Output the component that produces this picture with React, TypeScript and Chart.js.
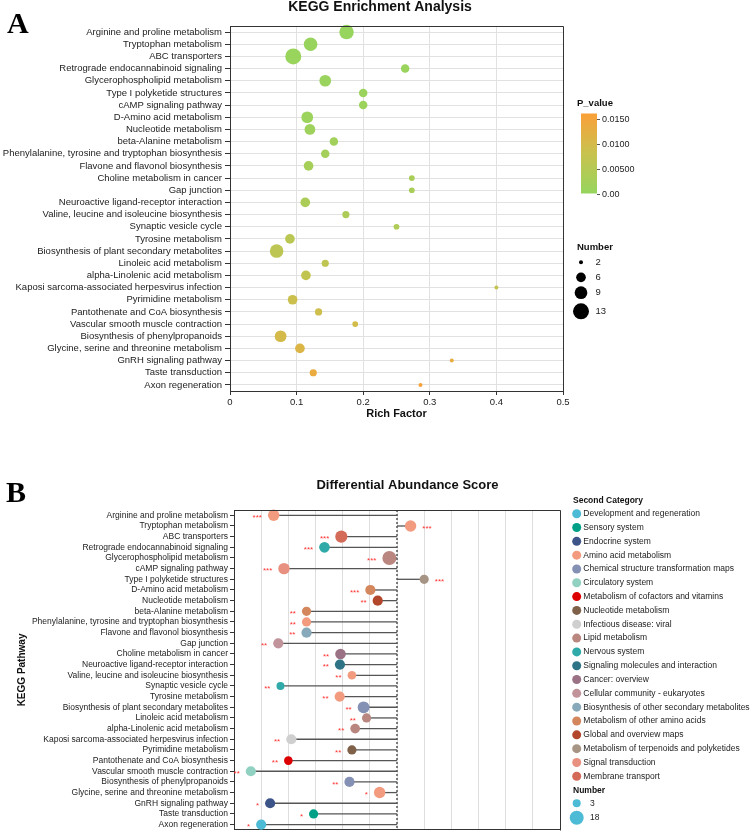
import React, { useEffect, useRef } from "react";
import { Chart, registerables } from "chart.js";

Chart.register(...registerables);

const SANS = "'Liberation Sans', Arial, Helvetica, sans-serif";
const SERIF = "'Liberation Serif', 'Times New Roman', serif";

// ---------- Panel A: KEGG enrichment ----------
const enrichPathways = [
  "Arginine and proline metabolism",
  "Tryptophan metabolism",
  "ABC transporters",
  "Retrograde endocannabinoid signaling",
  "Glycerophospholipid metabolism",
  "Type I polyketide structures",
  "cAMP signaling pathway",
  "D-Amino acid metabolism",
  "Nucleotide metabolism",
  "beta-Alanine metabolism",
  "Phenylalanine, tyrosine and tryptophan biosynthesis",
  "Flavone and flavonol biosynthesis",
  "Choline metabolism in cancer",
  "Gap junction",
  "Neuroactive ligand-receptor interaction",
  "Valine, leucine and isoleucine biosynthesis",
  "Synaptic vesicle cycle",
  "Tyrosine metabolism",
  "Biosynthesis of plant secondary metabolites",
  "Linoleic acid metabolism",
  "alpha-Linolenic acid metabolism",
  "Kaposi sarcoma-associated herpesvirus infection",
  "Pyrimidine metabolism",
  "Pantothenate and CoA biosynthesis",
  "Vascular smooth muscle contraction",
  "Biosynthesis of phenylpropanoids",
  "Glycine, serine and threonine metabolism",
  "GnRH signaling pathway",
  "Taste transduction",
  "Axon regeneration",
];
const richFactor = [
  0.175, 0.121, 0.095, 0.263, 0.143, 0.2, 0.2, 0.116, 0.12, 0.156,
  0.143, 0.118, 0.273, 0.273, 0.113, 0.174, 0.25, 0.09, 0.07, 0.143,
  0.114, 0.4, 0.094, 0.133, 0.188, 0.076, 0.105, 0.333, 0.125, 0.286,
];
const enrichCount = [
  11, 10, 13, 5, 8, 5, 5, 8, 7, 5,
  5, 6, 3, 3, 6, 4, 3, 6, 10, 4,
  6, 2, 6, 4, 3, 8, 6, 2, 4, 2,
];
const enrichP = [
  0.0002, 0.0003, 0.0004, 0.0006, 0.0007, 0.0008, 0.0008, 0.0009, 0.0012, 0.0018,
  0.0022, 0.0026, 0.003, 0.003, 0.0033, 0.0036, 0.004, 0.0058, 0.0062, 0.0066,
  0.007, 0.0075, 0.0085, 0.009, 0.0094, 0.0098, 0.011, 0.0128, 0.0135, 0.0155,
];
const pLegendTicks = [0.015, 0.01, 0.005, 0];
const pLegendLabels = ["0.0150", "0.0100", "0.00500", "0.00"];
const enrichCountLegend = [2, 6, 9, 13];

// ---------- Panel B: differential abundance ----------
const daPathways = [
  "Arginine and proline metabolism",
  "Tryptophan metabolism",
  "ABC transporters",
  "Retrograde endocannabinoid signaling",
  "Glycerophospholipid metabolism",
  "cAMP signaling pathway",
  "Type I polyketide structures",
  "D-Amino acid metabolism",
  "Nucleotide metabolism",
  "beta-Alanine metabolism",
  "Phenylalanine, tyrosine and tryptophan biosynthesis",
  "Flavone and flavonol biosynthesis",
  "Gap junction",
  "Choline metabolism in cancer",
  "Neuroactive ligand-receptor interaction",
  "Valine, leucine and isoleucine biosynthesis",
  "Synaptic vesicle cycle",
  "Tyrosine metabolism",
  "Biosynthesis of plant secondary metabolites",
  "Linoleic acid metabolism",
  "alpha-Linolenic acid metabolism",
  "Kaposi sarcoma-associated herpesvirus infection",
  "Pyrimidine metabolism",
  "Pantothenate and CoA biosynthesis",
  "Vascular smooth muscle contraction",
  "Biosynthesis of phenylpropanoids",
  "Glycine, serine and threonine metabolism",
  "GnRH signaling pathway",
  "Taste transduction",
  "Axon regeneration",
];
const daScore = [
  -0.454, 0.05, -0.205, -0.267, -0.028, -0.416, 0.1, -0.098, -0.071, -0.333,
  -0.333, -0.333, -0.437, -0.208, -0.21, -0.166, -0.429, -0.211, -0.123, -0.112,
  -0.154, -0.389, -0.166, -0.4, -0.538, -0.175, -0.064, -0.467, -0.307, -0.5,
];
const daCount = [
  10, 10, 12, 8, 18, 10, 5, 7, 7, 5,
  5, 7, 7, 8, 7, 4, 3, 7, 11, 5,
  6, 7, 5, 4, 7, 7, 10, 7, 5, 7,
];
const daStars = [
  "***", "***", "***", "***", "***", "***", "***", "***", "**", "**",
  "**", "**", "**", "**", "**", "**", "**", "**", "**", "**",
  "**", "**", "**", "**", "**", "**", "*", "*", "*", "*",
];
const daCategory = [
  "Amino acid metabolism",
  "Amino acid metabolism",
  "Membrane transport",
  "Nervous system",
  "Lipid metabolism",
  "Signal transduction",
  "Metabolism of terpenoids and polyketides",
  "Metabolism of other amino acids",
  "Global and overview maps",
  "Metabolism of other amino acids",
  "Amino acid metabolism",
  "Biosynthesis of other secondary metabolites",
  "Cellular community - eukaryotes",
  "Cancer: overview",
  "Signaling molecules and interaction",
  "Amino acid metabolism",
  "Nervous system",
  "Amino acid metabolism",
  "Chemical structure transformation maps",
  "Lipid metabolism",
  "Lipid metabolism",
  "Infectious disease: viral",
  "Nucleotide metabolism",
  "Metabolism of cofactors and vitamins",
  "Circulatory system",
  "Chemical structure transformation maps",
  "Amino acid metabolism",
  "Endocrine system",
  "Sensory system",
  "Development and regeneration",
];
const categoryNames = [
  "Development and regeneration",
  "Sensory system",
  "Endocrine system",
  "Amino acid metabolism",
  "Chemical structure transformation maps",
  "Circulatory system",
  "Metabolism of cofactors and vitamins",
  "Nucleotide metabolism",
  "Infectious disease: viral",
  "Lipid metabolism",
  "Nervous system",
  "Signaling molecules and interaction",
  "Cancer: overview",
  "Cellular community - eukaryotes",
  "Biosynthesis of other secondary metabolites",
  "Metabolism of other amino acids",
  "Global and overview maps",
  "Metabolism of terpenoids and polyketides",
  "Signal transduction",
  "Membrane transport",
];
const categoryColors = [
  "#4DBBD5", "#00A087", "#3C5488", "#F39B7F", "#8491B4",
  "#91D1C2", "#DC0000", "#7E6148", "#CFCFCF", "#B9877F",
  "#2FAAA8", "#2E7486", "#9B7285", "#C1939A", "#87A9B9",
  "#D4875D", "#B2472B", "#A69484", "#E89180", "#D46A58",
];
const daCountLegend = [3, 18];

// ---------- helpers ----------
const P_MAX = 0.016;
const P_STOPS: [number, number[]][] = [
  [0, [150, 213, 94]],
  [0.008, [200, 194, 78]],
  [0.016, [250, 160, 56]],
];
function pColor(p: number): string {
  const v = Math.max(0, Math.min(P_MAX, p));
  for (let i = 0; i < P_STOPS.length - 1; i++) {
    const [a, ca] = P_STOPS[i];
    const [b, cb] = P_STOPS[i + 1];
    if (v <= b) {
      const t = (v - a) / (b - a);
      const c = ca.map((x, k) => Math.round(x + (cb[k] - x) * t));
      return `rgb(${c[0]},${c[1]},${c[2]})`;
    }
  }
  const c = P_STOPS[P_STOPS.length - 1][1];
  return `rgb(${c[0]},${c[1]},${c[2]})`;
}
function enrichRadius(n: number): number {
  return 2 + ((Math.sqrt(n) - Math.sqrt(2)) / (Math.sqrt(13) - Math.sqrt(2))) * 6;
}
function daRadius(n: number): number {
  return 4 + ((Math.sqrt(n) - Math.sqrt(3)) / (Math.sqrt(18) - Math.sqrt(3))) * 3;
}
function text(
  ctx: CanvasRenderingContext2D,
  s: string,
  x: number,
  y: number,
  font: string,
  color: string,
  align: CanvasTextAlign = "left",
  baseline: CanvasTextBaseline = "middle"
) {
  ctx.font = font;
  ctx.fillStyle = color;
  ctx.textAlign = align;
  ctx.textBaseline = baseline;
  ctx.fillText(s, x, y);
}
function frame(chart: any) {
  const { ctx, chartArea } = chart;
  ctx.save();
  ctx.strokeStyle = "#333";
  ctx.lineWidth = 1;
  const l = Math.round(chartArea.left) + 0.5;
  const r = Math.round(chartArea.right) + 0.5;
  const t = Math.round(chartArea.top) + 0.5;
  const b = Math.round(chartArea.bottom) + 0.5;
  ctx.beginPath();
  ctx.moveTo(l, t);
  ctx.lineTo(r, t);
  ctx.lineTo(r, b);
  ctx.stroke();
  ctx.restore();
}

const TOP_H = 435;
const BOTTOM_H = 402;

function EnrichmentChart() {
  const ref = useRef<HTMLCanvasElement>(null);
  useEffect(() => {
    const canvas = ref.current;
    if (!canvas) return;
    const decor = {
      id: "enrichDecor",
      afterDraw(chart: any) {
        const { ctx, chartArea } = chart;
        frame(chart);
        ctx.save();
        text(ctx, "A", 7, 33, `bold 30px ${SERIF}`, "#000", "left", "alphabetic");
        text(ctx, "KEGG Enrichment Analysis", 380, 7.5, `bold 14px ${SANS}`, "#111", "center");
        text(ctx, "Rich Factor", (chartArea.left + chartArea.right) / 2, 414, `bold 11px ${SANS}`, "#111", "center");

        // colour bar
        const barX = 581;
        const barW = 16;
        const py = (v: number) => 193.5 - v * 5000;
        text(ctx, "P_value", 577, 103, `bold 9.5px ${SANS}`, "#111");
        const g = ctx.createLinearGradient(0, py(P_MAX), 0, py(0));
        for (let i = 0; i <= 16; i++) {
          const v = (P_MAX * i) / 16;
          g.addColorStop(1 - i / 16, pColor(v));
        }
        ctx.fillStyle = g;
        ctx.fillRect(barX, py(P_MAX), barW, py(0) - py(P_MAX));
        ctx.strokeStyle = "#555";
        ctx.lineWidth = 1;
        pLegendTicks.forEach((v, i) => {
          const yy = Math.round(py(v)) + 0.5;
          ctx.beginPath();
          ctx.moveTo(barX + barW, yy);
          ctx.lineTo(barX + barW + 3, yy);
          ctx.stroke();
          text(ctx, pLegendLabels[i], barX + barW + 5, yy, `9px ${SANS}`, "#222");
        });

        // size legend
        text(ctx, "Number", 577, 247, `bold 9.5px ${SANS}`, "#111");
        const rowsY = [262.3, 277.3, 292.7, 311.3];
        enrichCountLegend.forEach((n, i) => {
          ctx.beginPath();
          ctx.fillStyle = "#000";
          ctx.arc(581, rowsY[i], enrichRadius(n), 0, Math.PI * 2);
          ctx.fill();
          text(ctx, String(n), 595.5, rowsY[i], `9.5px ${SANS}`, "#222");
        });
        ctx.restore();
      },
    };
    const chart = new Chart(canvas, {
      type: "scatter",
      data: {
        datasets: [
          {
            data: enrichPathways.map((_, i) => ({ x: richFactor[i], y: i })),
            backgroundColor: enrichP.map(pColor),
            pointRadius: enrichCount.map(enrichRadius),
            pointHoverRadius: enrichCount.map(enrichRadius),
            borderWidth: 0,
            clip: false,
          } as any,
        ],
      },
      options: {
        animation: false,
        responsive: false,
        events: [],
        layout: { padding: { left: 0, right: 187, top: 26, bottom: 0 } },
        plugins: { legend: { display: false }, tooltip: { enabled: false } },
        scales: {
          x: {
            type: "linear",
            min: 0,
            max: 0.5,
            ticks: { stepSize: 0.1, color: "#222", font: { family: SANS, size: 9.5 }, padding: 2 },
            grid: { color: "#e1e1e1", tickColor: "#333", tickLength: 4, lineWidth: 1 },
            border: { color: "#333", width: 1 },
            afterFit: (s: any) => {
              s.height = TOP_H - 391;
            },
          },
          y: {
            type: "linear",
            min: -0.5,
            max: 29.5,
            reverse: true,
            afterBuildTicks: (s: any) => {
              s.ticks = enrichPathways.map((_, i) => ({ value: i }));
            },
            ticks: {
              autoSkip: false,
              callback: (v: any) => enrichPathways[v as number],
              color: "#222",
              font: { family: SANS, size: 9.5 },
              padding: 3,
            },
            grid: { color: "#e1e1e1", tickColor: "#333", tickLength: 5, lineWidth: 1 },
            border: { color: "#333", width: 1 },
            afterFit: (s: any) => {
              s.width = 230;
            },
          },
        },
      } as any,
      plugins: [decor],
    });
    return () => chart.destroy();
  }, []);
  return <canvas ref={ref} width={750} height={TOP_H} style={{ display: "block", width: 750, height: TOP_H }} />;
}

function AbundanceChart() {
  const ref = useRef<HTMLCanvasElement>(null);
  useEffect(() => {
    const canvas = ref.current;
    if (!canvas) return;
    const colorOf = (c: string) => categoryColors[categoryNames.indexOf(c)];
    const decor = {
      id: "daDecor",
      afterDraw(chart: any) {
        const { ctx, chartArea, scales } = chart;
        frame(chart);
        ctx.save();
        text(ctx, "B", 6, 67, `bold 30px ${SERIF}`, "#000", "left", "alphabetic");
        text(ctx, "Differential Abundance Score", 407.5, 50.7, `bold 13px ${SANS}`, "#111", "center");

        ctx.save();
        ctx.translate(22, (chartArea.top + chartArea.bottom) / 2);
        ctx.rotate(-Math.PI / 2);
        text(ctx, "KEGG Pathway", 0, 0, `bold 10px ${SANS}`, "#111", "center");
        ctx.restore();

        // significance marks
        daScore.forEach((v, i) => {
          const px = scales.x.getPixelForValue(v);
          const py = scales.y.getPixelForValue(i);
          const r = daRadius(daCount[i]);
          if (v < 0) {
            text(ctx, daStars[i], px - r - 6, py + 4.6, `8px ${SANS}`, "#ff3030", "right", "alphabetic");
          } else {
            text(ctx, daStars[i], px + r + 6, py + 4.6, `8px ${SANS}`, "#ff3030", "left", "alphabetic");
          }
        });

        // category legend
        text(ctx, "Second Category", 573, 65.7, `bold 8.5px ${SANS}`, "#111");
        categoryNames.forEach((name, i) => {
          const yy = 78.7 + i * 13.82;
          ctx.beginPath();
          ctx.fillStyle = categoryColors[i];
          ctx.arc(576.7, yy, 4.5, 0, Math.PI * 2);
          ctx.fill();
          text(ctx, name, 583.3, yy, `8.5px ${SANS}`, "#222");
        });
        text(ctx, "Number", 573, 355.3, `bold 8.5px ${SANS}`, "#111");
        const sizeY = [368.3, 382.7];
        daCountLegend.forEach((n, i) => {
          ctx.beginPath();
          ctx.fillStyle = "#4DBBD5";
          ctx.arc(576.7, sizeY[i], daRadius(n), 0, Math.PI * 2);
          ctx.fill();
          text(ctx, String(n), 590, sizeY[i], `8.5px ${SANS}`, "#222");
        });
        ctx.restore();
      },
    };

    const stems = daPathways.map((_, i) => ({
      type: "line",
      data: [
        { x: 0, y: i },
        { x: daScore[i], y: i },
      ],
      borderColor: "#555",
      borderWidth: 1.3,
      pointRadius: 0,
      order: 2,
    }));

    const chart = new Chart(canvas, {
      type: "scatter",
      data: {
        datasets: [
          {
            type: "scatter",
            data: daPathways.map((_, i) => ({ x: daScore[i], y: i })),
            backgroundColor: daCategory.map(colorOf),
            pointRadius: daCount.map(daRadius),
            pointHoverRadius: daCount.map(daRadius),
            borderWidth: 0,
            clip: false,
            order: 0,
          },
          ...stems,
          {
            type: "line",
            data: [
              { x: 0, y: -0.5 },
              { x: 0, y: 29.5 },
            ],
            borderColor: "#555",
            borderWidth: 1.5,
            borderDash: [2, 2],
            pointRadius: 0,
            order: 3,
          },
        ] as any,
      },
      options: {
        animation: false,
        responsive: false,
        events: [],
        layout: { padding: { left: 0, right: 190, top: 75, bottom: 2 } },
        plugins: { legend: { display: false }, tooltip: { enabled: false } },
        scales: {
          x: {
            type: "linear",
            min: -0.6,
            max: 0.6,
            ticks: { stepSize: 0.1, display: false },
            grid: { color: "#dedede", drawTicks: false, lineWidth: 1 },
            border: { color: "#333", width: 1 },
            afterFit: (s: any) => {
              s.height = 0;
            },
          },
          y: {
            type: "linear",
            min: -0.5,
            max: 29.5,
            reverse: true,
            afterBuildTicks: (s: any) => {
              s.ticks = daPathways.map((_, i) => ({ value: i }));
            },
            ticks: {
              autoSkip: false,
              callback: (v: any) => daPathways[v as number],
              color: "#222",
              font: { family: SANS, size: 8.5 },
              padding: 2,
            },
            grid: { drawOnChartArea: false, tickColor: "#333", tickLength: 4 },
            border: { color: "#333", width: 1 },
            afterFit: (s: any) => {
              s.width = 234;
            },
          },
        },
      } as any,
      plugins: [decor],
    });
    return () => chart.destroy();
  }, []);
  return <canvas ref={ref} width={750} height={BOTTOM_H} style={{ display: "block", width: 750, height: BOTTOM_H }} />;
}

export default function App() {
  useEffect(() => {
    document.body.style.margin = "0";
  }, []);
  return (
    <div style={{ width: 750, height: 831, background: "#fff", overflow: "hidden" }}>
      <EnrichmentChart />
      <AbundanceChart />
    </div>
  );
}
